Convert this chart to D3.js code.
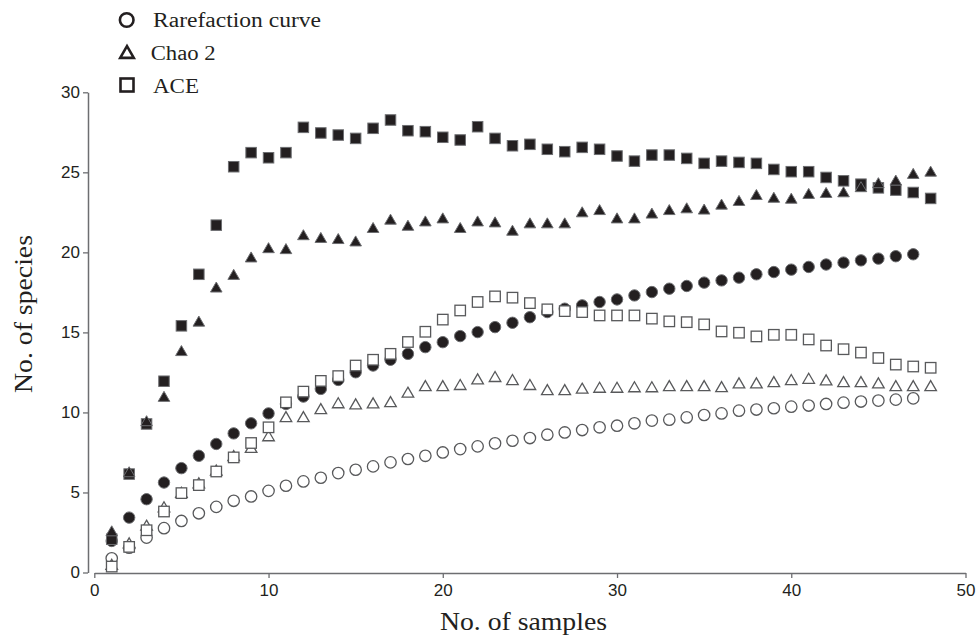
<!DOCTYPE html>
<html>
<head>
<meta charset="utf-8">
<script src="https://cdn.jsdelivr.net/npm/d3@7"></script>
<style>
  html, body { margin: 0; padding: 0; background: #fff; }
  svg { display: block; }
</style>
</head>
<body>
<svg id="chart" width="978" height="637"></svg>
<script>
// ---- data ----
const rareOpen = [0.89, 1.55, 2.18, 2.77, 3.22, 3.70, 4.10, 4.48, 4.75, 5.10, 5.42, 5.69, 5.92, 6.21, 6.42, 6.63, 6.88, 7.09, 7.29, 7.50, 7.71, 7.88, 8.07, 8.23, 8.40, 8.61, 8.75, 8.90, 9.07, 9.17, 9.32, 9.49, 9.55, 9.69, 9.84, 9.94, 10.11, 10.18, 10.26, 10.36, 10.43, 10.53, 10.61, 10.68, 10.74, 10.80, 10.88];
const rareFilled = [1.97, 3.43, 4.58, 5.62, 6.52, 7.29, 8.03, 8.69, 9.32, 9.94, 10.53, 10.99, 11.47, 12.03, 12.51, 12.93, 13.29, 13.66, 14.08, 14.39, 14.77, 15.02, 15.33, 15.60, 15.95, 16.27, 16.48, 16.69, 16.90, 17.06, 17.31, 17.52, 17.73, 17.90, 18.11, 18.25, 18.42, 18.63, 18.77, 18.92, 19.09, 19.24, 19.36, 19.50, 19.61, 19.76, 19.88];
const chaoOpen = [0.4, 1.75, 2.85, 4.0, 4.9, 5.5, 6.3, 7.2, 7.71, 8.44, 9.63, 9.63, 10.13, 10.50, 10.43, 10.49, 10.57, 11.16, 11.57, 11.57, 11.64, 11.99, 12.14, 11.95, 11.64, 11.32, 11.32, 11.41, 11.47, 11.47, 11.50, 11.50, 11.57, 11.57, 11.57, 11.51, 11.74, 11.74, 11.82, 11.95, 12.03, 11.93, 11.82, 11.82, 11.74, 11.57, 11.57, 11.57];
const chaoFilled = [2.5, 6.19, 9.38, 10.9, 13.76, 15.6, 17.73, 18.52, 19.61, 20.19, 20.13, 21.0, 20.83, 20.76, 20.61, 21.45, 21.97, 21.59, 21.86, 22.05, 21.45, 21.86, 21.80, 21.28, 21.74, 21.74, 21.74, 22.43, 22.57, 22.05, 22.05, 22.35, 22.57, 22.68, 22.60, 22.91, 23.14, 23.51, 23.34, 23.28, 23.58, 23.64, 23.68, 24.00, 24.25, 24.41, 24.83, 24.97];
const aceOpen = [0.37, 1.6, 2.64, 3.81, 4.96, 5.46, 6.31, 7.19, 8.09, 9.07, 10.63, 11.3, 11.97, 12.27, 12.93, 13.29, 13.66, 14.40, 15.04, 15.80, 16.37, 16.90, 17.25, 17.17, 16.83, 16.44, 16.33, 16.27, 16.06, 16.06, 16.06, 15.86, 15.69, 15.64, 15.50, 15.06, 14.98, 14.75, 14.85, 14.85, 14.56, 14.18, 13.95, 13.74, 13.40, 12.99, 12.87, 12.79];
const aceFilled = [2.08, 6.15, 9.28, 11.95, 15.41, 18.63, 21.7, 25.35, 26.23, 25.91, 26.23, 27.81, 27.46, 27.33, 27.12, 27.75, 28.27, 27.60, 27.54, 27.19, 27.02, 27.85, 27.12, 26.66, 26.75, 26.44, 26.29, 26.56, 26.44, 26.02, 25.70, 26.08, 26.08, 25.87, 25.56, 25.70, 25.62, 25.56, 25.18, 25.04, 25.04, 24.68, 24.47, 24.26, 24.03, 23.89, 23.74, 23.37];

const xTicks = [0, 10, 20, 30, 40, 50];
const yTicks = [0, 5, 10, 15, 20, 25, 30];
const legendLabels = ["Rarefaction curve", "Chao 2", "ACE"];
const xTitle = "No. of samples";
const yTitle = "No. of species";

// ---- drawing ----
const svg = d3.select("#chart");
const ink = "#231f20";
const axisGrey = "#6d6e71";
const openStroke = "#58595b";

const x = d3.scaleLinear().domain([0, 50]).range([94.3, 965.5]);
const y = d3.scaleLinear().domain([0, 30]).range([572.5, 92.3]);

// y axis
const yAxis = svg.append("g").attr("transform", "translate(88,0)")
  .call(d3.axisLeft(y).tickValues(yTicks).tickSize(5).tickSizeOuter(0).tickPadding(3));
// x axis
const xAxis = svg.append("g").attr("transform", "translate(0,573)")
  .call(d3.axisBottom(x).tickValues(xTicks).tickSize(5).tickSizeOuter(0).tickPadding(6));

[yAxis, xAxis].forEach(g => {
  g.select(".domain").attr("stroke", axisGrey).attr("stroke-width", 1.5);
  g.selectAll(".tick line").attr("stroke", axisGrey).attr("stroke-width", 1.3);
  g.selectAll(".tick text").attr("fill", ink)
    .style("font-family", "'Liberation Sans', Arial, sans-serif").style("font-size", "17px");
});

const triArea = 58;
const tri = d3.symbol().type(d3.symbolTriangle).size(triArea);
const sq = 10.5;
const cr = 5.7;

function drawCircles(vals, filled) {
  svg.append("g").selectAll("circle").data(vals).join("circle")
    .attr("cx", (d, i) => x(i + 1)).attr("cy", d => y(d)).attr("r", cr)
    .attr("fill", filled ? ink : "#fff")
    .attr("stroke", filled ? axisGrey : openStroke)
    .attr("stroke-width", filled ? 1 : 1.3);
}
function drawSquares(vals, filled) {
  svg.append("g").selectAll("rect").data(vals).join("rect")
    .attr("x", (d, i) => x(i + 1) - sq / 2).attr("y", d => y(d) - sq / 2)
    .attr("width", sq).attr("height", sq)
    .attr("fill", filled ? ink : "#fff")
    .attr("stroke", filled ? axisGrey : openStroke)
    .attr("stroke-width", filled ? 1 : 1.3);
}
function drawTriangles(vals, filled) {
  svg.append("g").selectAll("path").data(vals).join("path")
    .attr("d", tri)
    .attr("transform", (d, i) => `translate(${x(i + 1)},${y(d)})`)
    .attr("fill", filled ? ink : "#fff")
    .attr("stroke", filled ? axisGrey : openStroke)
    .attr("stroke-width", filled ? 1 : 1.3);
}

drawCircles(rareOpen, false);
drawCircles(rareFilled, true);
drawTriangles(chaoOpen, false);
drawSquares(aceOpen, false);
drawSquares(aceFilled, true);
drawTriangles(chaoFilled, true);

// legend
const serif = "'Liberation Serif', 'Times New Roman', serif";
const leg = svg.append("g");
leg.append("circle").attr("cx", 126.7).attr("cy", 20).attr("r", 6.8)
  .attr("fill", "none").attr("stroke", ink).attr("stroke-width", 2.6);
leg.append("path").attr("d", d3.symbol().type(d3.symbolTriangle).size(80)())
  .attr("transform", "translate(127,54)")
  .attr("fill", "none").attr("stroke", ink).attr("stroke-width", 2.6);
leg.append("rect").attr("x", 120.5).attr("y", 78.5).attr("width", 13).attr("height", 13)
  .attr("fill", "none").attr("stroke", ink).attr("stroke-width", 2.6);

const legPos = [[153, 26.5, 168], [150.7, 60, 65], [153, 92.5, 46]];
legendLabels.forEach((t, i) => {
  leg.append("text").attr("x", legPos[i][0]).attr("y", legPos[i][1])
    .attr("textLength", legPos[i][2]).attr("lengthAdjust", "spacingAndGlyphs")
    .style("font-family", serif).style("font-size", "20px").attr("fill", ink).text(t);
});

// axis titles
svg.append("text").attr("x", 523.5).attr("y", 630).attr("text-anchor", "middle")
  .attr("textLength", 167).attr("lengthAdjust", "spacingAndGlyphs")
  .style("font-family", serif).style("font-size", "25px").attr("fill", ink).text(xTitle);
svg.append("text").attr("transform", "translate(32,314) rotate(-90)").attr("text-anchor", "middle")
  .attr("textLength", 158).attr("lengthAdjust", "spacingAndGlyphs")
  .style("font-family", serif).style("font-size", "25px").attr("fill", ink).text(yTitle);
</script>
</body>
</html>
